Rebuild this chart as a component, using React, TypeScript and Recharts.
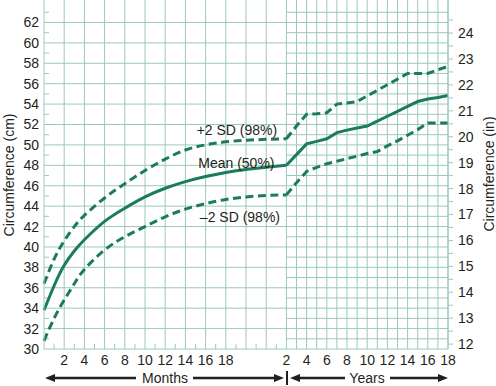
import { LineChart, Line, XAxis, YAxis, ReferenceLine, ReferenceDot } from 'recharts';

// x position: months 0-24 use the month itself, years 2-18 continue at 24 + (year - 2)
const monthAges = [0, 1, 2, 3, 4, 6, 8, 10, 12, 14, 16, 18, 20, 22, 24];
const meanMonths = [33.8, 36.2, 38.2, 39.6, 40.7, 42.5, 43.8, 44.9, 45.75, 46.4, 46.9, 47.3, 47.6, 47.8, 48.0];
const plusMonths = [36.4, 38.8, 40.6, 42.0, 43.1, 44.8, 46.2, 47.5, 48.6, 49.5, 50.0, 50.3, 50.45, 50.55, 50.6];
const minusMonths = [30.8, 33.0, 34.8, 36.4, 37.8, 39.7, 41.0, 42.0, 42.95, 43.7, 44.25, 44.65, 44.9, 45.05, 45.1];

const yearAges = [2, 3, 4, 5, 6, 7, 8, 9, 10, 11, 12, 13, 14, 15, 16, 17, 18];
const meanYears = [48.0, 49.05, 50.1, 50.35, 50.6, 51.2, 51.45, 51.65, 51.85, 52.33, 52.81, 53.29, 53.77, 54.25, 54.5, 54.65, 54.85];
const plusYears = [50.6, 51.85, 53.0, 53.05, 53.15, 54.0, 54.1, 54.25, 54.8, 55.35, 55.9, 56.45, 57.0, 57.0, 57.0, 57.35, 57.7];
const minusYears = [45.1, 46.3, 47.4, 47.8, 48.15, 48.4, 48.65, 48.9, 49.15, 49.35, 49.9, 50.4, 50.95, 51.5, 52.15, 52.15, 52.15];

const monthTicks = [2, 4, 6, 8, 10, 12, 14, 16, 18];
const yearTicks = [2, 4, 6, 8, 10, 12, 14, 16, 18];
const cmTicks = [30, 32, 34, 36, 38, 40, 42, 44, 46, 48, 50, 52, 54, 56, 58, 60, 62];
const inTicks = [12, 12.5, 13, 13.5, 14, 14.5, 15, 15.5, 16, 16.5, 17, 17.5, 18, 18.5, 19, 19.5, 20, 20.5, 21, 21.5, 22, 22.5, 23, 23.5, 24, 24.5];

const yearPos = (yr: number) => 24 + (yr - 2);

const rows: any[] = [];
monthAges.forEach((m, i) => {
  rows.push({ x: m, meanM: meanMonths[i], plusM: plusMonths[i], minusM: minusMonths[i] });
});
yearAges.forEach((yr, i) => {
  const x = yearPos(yr);
  const row = rows.find((r) => r.x === x);
  if (row) Object.assign(row, { meanY: meanYears[i], plusY: plusYears[i], minusY: minusYears[i] });
  else rows.push({ x, meanY: meanYears[i], plusY: plusYears[i], minusY: minusYears[i] });
});

const ink = '#231f20';
const gridColor = '#9cc8bf';
const lineColor = '#1b7b5b';
const font = '"Liberation Sans", Arial, Helvetica, sans-serif';

const range = (a: number, b: number, step: number) => {
  const out: number[] = [];
  for (let v = a; v <= b + 1e-9; v += step) out.push(v);
  return out;
};

const monthGrid = range(2, 24, 2);
const yearGrid = range(25, 40, 1);
const evenCm = range(32, 62, 2);
const oddCm = range(31, 63, 2);
const oddMonths = range(1, 23, 2);

export default function App() {
  const tickStyle = { fill: ink, fontSize: 14, fontFamily: font };
  const dash = '8 4.5';
  return (
    <div style={{ position: 'absolute', left: 0, top: 0, width: 496, height: 386, background: '#fff' }}>
      <LineChart width={496} height={386} data={rows} margin={{ top: 0, right: 0, bottom: 0, left: 0 }}>
        <XAxis
          dataKey="x"
          type="number"
          domain={[0, 40]}
          ticks={[...monthTicks, ...yearTicks.map(yearPos)]}
          tickFormatter={(v: number) => (v >= 24 ? String(v - 22) : String(v))}
          interval={0}
          height={37}
          tickSize={0}
          tickMargin={6}
          tickLine={false}
          axisLine={{ stroke: gridColor }}
          tick={tickStyle}
        />
        <YAxis
          type="number"
          domain={[30, 64.2]}
          ticks={cmTicks}
          interval={0}
          width={44}
          tickSize={0}
          tickMargin={5}
          tickLine={false}
          axisLine={{ stroke: gridColor }}
          tick={tickStyle}
          allowDataOverflow
        />
        <YAxis
          yAxisId="in"
          orientation="right"
          type="number"
          domain={[30 / 2.54, 64.2 / 2.54]}
          ticks={inTicks}
          interval={0}
          tickFormatter={(v: number) => (Number.isInteger(v) ? String(v) : '')}
          width={48}
          tickSize={5}
          tickMargin={5}
          tickLine={{ stroke: gridColor }}
          axisLine={{ stroke: gridColor }}
          tick={tickStyle}
          allowDataOverflow
        />

        {/* grid: coarse over months, fine over years */}
        {evenCm.map((c) => (
          <ReferenceLine key={'h' + c} y={c} stroke={gridColor} strokeWidth={1} />
        ))}
        {oddCm.map((c) => (
          <ReferenceLine key={'hy' + c} segment={[{ x: 24, y: c }, { x: 40, y: c }]} stroke={gridColor} strokeWidth={1} />
        ))}
        {oddCm.map((c) => (
          <ReferenceLine key={'tl' + c} segment={[{ x: 0, y: c }, { x: 0.5, y: c }]} stroke={gridColor} strokeWidth={1} />
        ))}
        {monthGrid.map((m) => (
          <ReferenceLine key={'vm' + m} x={m} stroke={gridColor} strokeWidth={1} />
        ))}
        {yearGrid.map((u) => (
          <ReferenceLine key={'vy' + u} x={u} stroke={gridColor} strokeWidth={1} />
        ))}
        {oddMonths.map((m) => (
          <ReferenceLine key={'tm' + m} segment={[{ x: m, y: 30 }, { x: m, y: 30.5 }]} stroke={gridColor} strokeWidth={1} />
        ))}

        <Line dataKey="plusM" type="natural" stroke={lineColor} strokeWidth={3} strokeDasharray={dash} dot={false} connectNulls isAnimationActive={false} />
        <Line dataKey="meanM" type="natural" stroke={lineColor} strokeWidth={3} dot={false} connectNulls isAnimationActive={false} />
        <Line dataKey="minusM" type="natural" stroke={lineColor} strokeWidth={3} strokeDasharray={dash} dot={false} connectNulls isAnimationActive={false} />
        <Line dataKey="plusY" type="linear" stroke={lineColor} strokeWidth={3} strokeDasharray={dash} dot={false} connectNulls isAnimationActive={false} />
        <Line dataKey="meanY" type="linear" stroke={lineColor} strokeWidth={3} dot={false} connectNulls isAnimationActive={false} />
        <Line dataKey="minusY" type="linear" stroke={lineColor} strokeWidth={3} strokeDasharray={dash} dot={false} connectNulls isAnimationActive={false} />

        <ReferenceDot x={19.1} y={51.45} r={0} stroke="none" fill="none"
          label={{ value: '+2 SD (98%)', position: 'center', fill: ink, fontSize: 14, fontFamily: font }} />
        <ReferenceDot x={19.05} y={48.2} r={0} stroke="none" fill="none"
          label={{ value: 'Mean (50%)', position: 'center', fill: ink, fontSize: 14, fontFamily: font }} />
        <ReferenceDot x={19.4} y={42.95} r={0} stroke="none" fill="none"
          label={{ value: '\u20132 SD (98%)', position: 'center', fill: ink, fontSize: 14, fontFamily: font }} />
      </LineChart>

      {/* axis titles and the months / years arrows */}
      <svg width={496} height={386} style={{ position: 'absolute', left: 0, top: 0, pointerEvents: 'none' }}>
        <g fontFamily={font} fontSize={14} fill={ink}>
          <text x={9} y={175} transform="rotate(-90 9 175)" textAnchor="middle" dominantBaseline="central">
            Circumference (cm)
          </text>
          <text x={489} y={174} transform="rotate(-90 489 174)" textAnchor="middle" dominantBaseline="central">
            Circumference (in)
          </text>
          <text x={165} y={378} textAnchor="middle" dominantBaseline="central">Months</text>
          <text x={367} y={378} textAnchor="middle" dominantBaseline="central">Years</text>
        </g>
        <g stroke={ink} strokeWidth={2.5} fill={ink}>
          <line x1={52} y1={378} x2={136} y2={378} />
          <polygon points="45,378 55,374 55,382" stroke="none" />
          <line x1={193} y1={378} x2={277} y2={378} />
          <polygon points="284,378 274,374 274,382" stroke="none" />
          <line x1={287} y1={371} x2={287} y2={385} strokeWidth={2} />
          <line x1={297} y1={378} x2={345} y2={378} />
          <polygon points="290,378 300,374 300,382" stroke="none" />
          <line x1={390} y1={378} x2={441} y2={378} />
          <polygon points="448,378 438,374 438,382" stroke="none" />
        </g>
      </svg>
    </div>
  );
}
